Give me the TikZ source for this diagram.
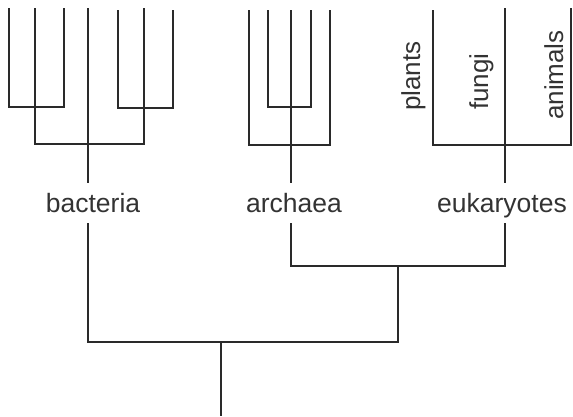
\documentclass[tikz,border=0pt]{standalone}
\usepackage{fontspec}
\setmainfont{Liberation Sans}
\definecolor{linegray}{HTML}{2A2A2A}
\definecolor{textgray}{HTML}{333333}
\begin{document}
\begin{tikzpicture}[x=1pt,y=-1pt,
  branch/.style={draw=linegray, line width=2.2pt, line join=miter},
  trunk/.style={draw=linegray, line width=2.8pt, line join=miter},
  group/.style={font=\fontsize{26.5}{30}\selectfont, text=textgray,
    text height=19.5pt, text depth=1.5pt, inner xsep=0pt, inner ysep=9.5pt, anchor=base},
  taxon/.style={font=\fontsize{26}{30}\selectfont, text=textgray,
    rotate=90, anchor=base west, inner sep=0pt}]
\useasboundingbox (0,0) rectangle (573,416);

% domain labels
\node[group] (bacteria) at (93,212) {bacteria};
\node[group] (archaea) at (294,212) {archaea};
\node[group] (eukaryotes) at (502,212) {eukaryotes};

% eukaryote groups
\node[taxon] (plants) at (420,111) {plants};
\node[taxon] (fungi) at (488,110) {fungi};
\node[taxon] (animals) at (563,120) {animals};

% bacterial subtree
\coordinate (b1) at (9,8);
\coordinate (b2) at (35,8);
\coordinate (b3) at (64,8);
\coordinate (b4) at (88,8);
\coordinate (b5) at (118,10);
\coordinate (b6) at (144,8);
\coordinate (b7) at (173,10);
\coordinate (bj1) at (35,107);
\coordinate (bj2) at (144,108);
\coordinate (bj3) at (88,144);
\draw[branch] (b1) |- (bj1) -| (b3);
\draw[branch] (b5) |- (bj2) -| (b7);
\draw[trunk] (b2) |- (bj3) -| (b6);
\draw[trunk] (b4) -- (b4 |- bacteria.north);

% archaeal subtree
\coordinate (a1) at (249,10);
\coordinate (a2) at (268,10);
\coordinate (a3) at (291,10);
\coordinate (a4) at (311,10);
\coordinate (a5) at (330,10);
\coordinate (aj1) at (291,107);
\coordinate (aj2) at (291,145);
\draw[branch] (a2) |- (aj1) -| (a4);
\draw[branch] (a1) |- (aj2) -| (a5);
\draw[branch] (a3) -- (a3 |- archaea.north);

% eukaryotic subtree
\coordinate (e1) at (433,10);
\coordinate (e2) at (505,8);
\coordinate (e3) at (571,8);
\coordinate (ej) at (505,145);
\draw[branch] (e1) |- (ej) -| (e3);
\draw[branch] (e2) -- (e2 |- eukaryotes.north);

% three-domain tree
\coordinate (ae) at (398,266);
\coordinate (all) at (221,342);
\coordinate (root) at (221,416);
\draw[branch] (a3 |- archaea.south) |- (ae) -| (e2 |- eukaryotes.south);
\draw[branch] (b4 |- bacteria.south) |- (all) -| (ae);
\draw[branch] (all) -- (root);
\end{tikzpicture}
\end{document}
